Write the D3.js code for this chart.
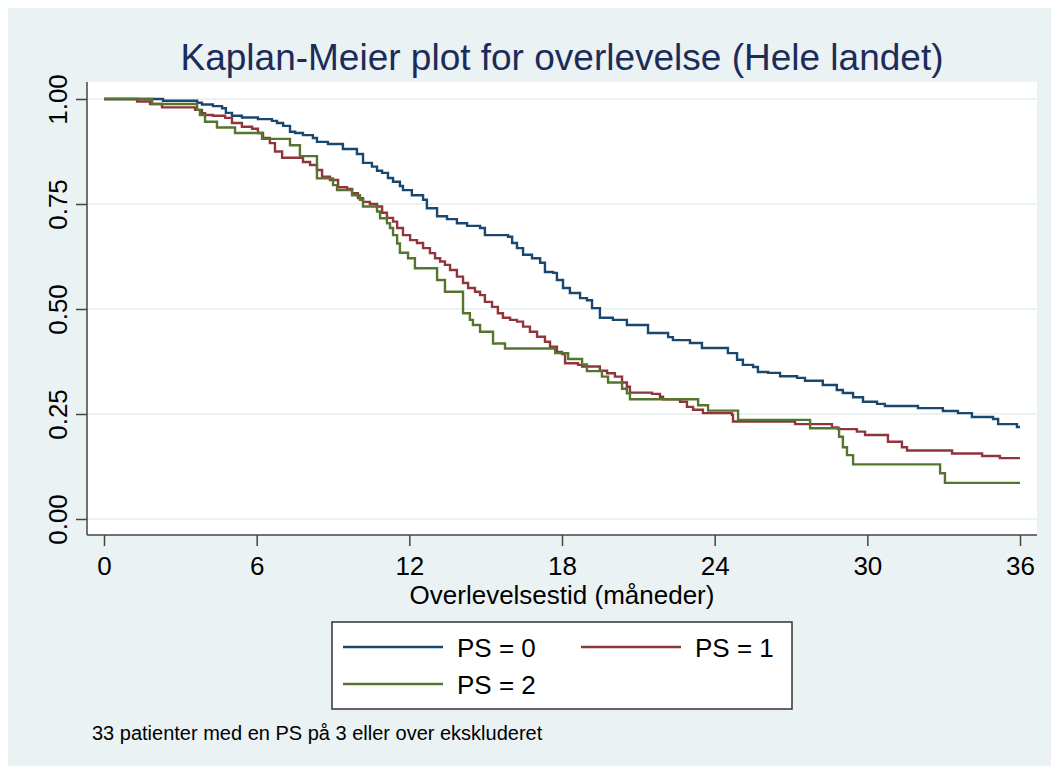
<!DOCTYPE html>
<html>
<head>
<meta charset="utf-8">
<script src="https://cdn.jsdelivr.net/npm/d3@7"></script>
<style>
  body { margin: 0; background: #fff; }
  text { font-family: "Liberation Sans", Arial, sans-serif; }
</style>
</head>
<body>
<script>
// Kaplan-Meier step data: time (months) where survival drops, and survival after the drop
var ps0Time = [0, 2.32, 3.66, 3.85, 4.28, 4.64, 4.79, 5.03, 5.42, 6.05, 6.60, 6.80, 7.04, 7.31, 7.51, 7.82, 8.21, 8.37, 8.80, 9.39, 9.94, 10.18, 10.53, 10.73, 10.93, 11.16, 11.36, 11.63, 11.75, 12.10, 12.54, 12.69, 13.09, 13.48, 13.87, 14.27, 14.78, 14.97, 15.88, 16.04, 16.23, 16.47, 16.82, 17.14, 17.33, 17.65, 17.80, 18.04, 18.31, 18.71, 18.98, 19.18, 19.49, 20.00, 20.55, 21.38, 22.17, 22.36, 23.03, 23.50, 24.52, 24.88, 25.11, 25.51, 25.70, 26.10, 26.57, 27.24, 27.55, 28.25, 28.80, 29.04, 29.44, 29.83, 30.38, 30.69, 31.99, 32.97, 33.56, 34.11, 34.94, 35.14, 35.88];
var ps0Surv = [1, 0.996, 0.991, 0.987, 0.983, 0.978, 0.967, 0.960, 0.956, 0.952, 0.948, 0.943, 0.936, 0.922, 0.919, 0.914, 0.907, 0.898, 0.893, 0.881, 0.869, 0.848, 0.839, 0.829, 0.824, 0.812, 0.803, 0.793, 0.783, 0.771, 0.760, 0.740, 0.721, 0.714, 0.704, 0.698, 0.693, 0.676, 0.672, 0.657, 0.645, 0.629, 0.621, 0.610, 0.588, 0.586, 0.569, 0.550, 0.538, 0.526, 0.521, 0.502, 0.479, 0.474, 0.462, 0.443, 0.433, 0.426, 0.419, 0.407, 0.395, 0.379, 0.367, 0.362, 0.350, 0.348, 0.340, 0.336, 0.329, 0.319, 0.307, 0.300, 0.290, 0.279, 0.274, 0.269, 0.264, 0.257, 0.252, 0.243, 0.238, 0.226, 0.219];

var ps1Time = [0, 1.30, 1.81, 2.28, 3.58, 3.85, 3.97, 4.28, 4.76, 5.03, 5.42, 5.82, 6.05, 6.25, 6.52, 6.72, 7.00, 7.82, 8.10, 8.37, 8.57, 8.88, 9.20, 9.55, 9.75, 9.98, 10.18, 10.45, 10.73, 10.93, 11.12, 11.36, 11.52, 11.75, 12.03, 12.30, 12.54, 12.81, 13.01, 13.21, 13.40, 13.60, 13.87, 14.11, 14.31, 14.58, 14.78, 14.97, 15.25, 15.48, 15.68, 15.96, 16.23, 16.47, 16.74, 17.02, 17.33, 17.53, 17.80, 18.00, 18.12, 18.63, 18.79, 19.49, 19.77, 20.08, 20.36, 20.55, 20.67, 21.54, 21.85, 21.97, 22.64, 22.91, 23.15, 23.54, 24.68, 24.72, 27.16, 28.61, 28.85, 29.59, 29.91, 30.81, 31.36, 31.56, 33.33, 34.51, 35.21];
var ps1Surv = [1, 0.994, 0.988, 0.980, 0.974, 0.966, 0.962, 0.960, 0.955, 0.943, 0.934, 0.929, 0.919, 0.907, 0.895, 0.875, 0.860, 0.850, 0.843, 0.831, 0.815, 0.807, 0.790, 0.786, 0.776, 0.764, 0.755, 0.750, 0.744, 0.729, 0.717, 0.708, 0.693, 0.676, 0.664, 0.657, 0.645, 0.633, 0.621, 0.613, 0.605, 0.593, 0.577, 0.562, 0.550, 0.541, 0.533, 0.517, 0.505, 0.490, 0.479, 0.474, 0.470, 0.458, 0.446, 0.434, 0.422, 0.410, 0.398, 0.393, 0.371, 0.367, 0.363, 0.353, 0.347, 0.339, 0.325, 0.315, 0.301, 0.298, 0.291, 0.285, 0.279, 0.267, 0.260, 0.252, 0.248, 0.232, 0.226, 0.218, 0.214, 0.208, 0.200, 0.184, 0.171, 0.163, 0.156, 0.150, 0.145];

var ps2Time = [0, 1.89, 3.66, 3.77, 3.97, 4.44, 5.15, 6.21, 7.31, 7.70, 8.37, 9.00, 9.16, 9.75, 10.06, 10.18, 10.73, 10.85, 11.12, 11.24, 11.36, 11.52, 11.63, 11.95, 12.22, 13.09, 13.40, 14.11, 14.38, 14.50, 14.78, 15.29, 15.76, 17.73, 18.24, 18.79, 18.98, 19.57, 19.81, 20.36, 20.55, 20.67, 23.35, 23.74, 24.92, 27.75, 28.89, 29.04, 29.20, 29.44, 32.86, 33.05];
var ps2Surv = [1, 0.988, 0.974, 0.962, 0.946, 0.932, 0.919, 0.905, 0.890, 0.864, 0.811, 0.795, 0.783, 0.771, 0.760, 0.744, 0.732, 0.716, 0.704, 0.693, 0.676, 0.656, 0.634, 0.621, 0.597, 0.569, 0.541, 0.490, 0.474, 0.462, 0.446, 0.418, 0.406, 0.395, 0.381, 0.368, 0.352, 0.339, 0.325, 0.310, 0.299, 0.285, 0.271, 0.258, 0.236, 0.216, 0.196, 0.171, 0.152, 0.130, 0.109, 0.086];

var groups = ["PS = 0", "PS = 1", "PS = 2"];
var groupColors = ["#1a476f", "#90353b", "#55752f"];
var xTicks = [0, 6, 12, 18, 24, 30, 36];
var yTicks = [0, 0.25, 0.5, 0.75, 1];
var maxTime = 36;

var W = 1051, H = 766;
var plot = {left: 87, right: 1037, top: 82, bottom: 535};

var svg = d3.select("body").append("svg")
    .attr("width", W)
    .attr("height", H);

// background (white strip top/left, light blue-grey graph region)
svg.append("rect").attr("width", W).attr("height", H).attr("fill", "#ffffff");
svg.append("rect").attr("x", 8).attr("y", 8).attr("width", W - 8).attr("height", H - 8).attr("fill", "#eaf2f3");
svg.append("rect")
    .attr("x", plot.left).attr("y", plot.top)
    .attr("width", plot.right - plot.left).attr("height", plot.bottom - plot.top)
    .attr("fill", "#ffffff");

var x = d3.scaleLinear().domain([0, 36]).range([104, 1020]);
var y = d3.scaleLinear().domain([0, 1]).range([519, 99]);

// gridlines
svg.append("g").selectAll("line")
    .data(yTicks)
  .enter().append("line")
    .attr("x1", plot.left).attr("x2", plot.right)
    .attr("y1", function(d) { return y(d); })
    .attr("y2", function(d) { return y(d); })
    .attr("stroke", "#eaf2f3")
    .attr("stroke-width", 2);

// title
svg.append("text")
    .attr("x", (plot.left + plot.right) / 2)
    .attr("y", 70)
    .attr("text-anchor", "middle")
    .attr("fill", "#1c2c5a")
    .style("font-size", "37px")
    .text("Kaplan-Meier plot for overlevelse (Hele landet)");

// x axis
var xAxis = d3.axisBottom(x).tickValues(xTicks).tickSize(11).tickPadding(6).tickFormat(d3.format("d"));
var gx = svg.append("g")
    .attr("transform", "translate(0," + plot.bottom + ")")
    .call(xAxis);
gx.select(".domain").remove();
gx.append("line")
    .attr("x1", plot.left).attr("x2", plot.right)
    .attr("stroke", "#444").attr("stroke-width", 1.5);
gx.selectAll(".tick line").attr("stroke", "#444").attr("stroke-width", 1.5);
gx.selectAll(".tick text")
    .attr("fill", "#000")
    .attr("dy", null)
    .attr("y", 40)
    .style("font-size", "26px")
    .style("font-family", "'Liberation Sans', Arial, sans-serif");

// y axis
var yAxis = d3.axisLeft(y).tickValues(yTicks).tickSize(11).tickFormat(d3.format(".2f"));
var gy = svg.append("g")
    .attr("transform", "translate(" + plot.left + ",0)")
    .call(yAxis);
gy.select(".domain").remove();
gy.append("line")
    .attr("y1", plot.top).attr("y2", plot.bottom)
    .attr("stroke", "#444").attr("stroke-width", 1.5);
gy.selectAll(".tick line").attr("stroke", "#444").attr("stroke-width", 1.5);
gy.selectAll(".tick text")
    .attr("x", null).attr("dy", null)
    .attr("fill", "#000")
    .attr("text-anchor", "middle")
    .attr("transform", "translate(-20,0) rotate(-90)")
    .style("font-size", "26px")
    .style("font-family", "'Liberation Sans', Arial, sans-serif");

// x axis title
svg.append("text")
    .attr("x", (plot.left + plot.right) / 2)
    .attr("y", 604)
    .attr("text-anchor", "middle")
    .style("font-size", "26px")
    .text("Overlevelsestid (måneder)");

// survival curves
var line = d3.line()
    .x(function(d) { return x(d[0]); })
    .y(function(d) { return y(d[1]); })
    .curve(d3.curveStepAfter);

function curvePoints(times, surv) {
  var pts = times.map(function(t, i) { return [t, surv[i]]; });
  pts.push([maxTime, surv[surv.length - 1]]);
  return pts;
}

var series = [
  curvePoints(ps0Time, ps0Surv),
  curvePoints(ps1Time, ps1Surv),
  curvePoints(ps2Time, ps2Surv)
];

svg.append("g").selectAll("path")
    .data(series)
  .enter().append("path")
    .attr("d", line)
    .attr("fill", "none")
    .attr("stroke", function(d, i) { return groupColors[i]; })
    .attr("stroke-width", 2.4);

// legend
var legend = svg.append("g");
legend.append("rect")
    .attr("x", 332).attr("y", 622)
    .attr("width", 460).attr("height", 87)
    .attr("fill", "#fff")
    .attr("stroke", "#333")
    .attr("stroke-width", 1.5);

var legendPos = [[343, 647], [581, 647], [343, 684]];
groups.forEach(function(g, i) {
  var p = legendPos[i];
  legend.append("line")
      .attr("x1", p[0]).attr("x2", p[0] + 100)
      .attr("y1", p[1]).attr("y2", p[1])
      .attr("stroke", groupColors[i])
      .attr("stroke-width", 2.4);
  legend.append("text")
      .attr("x", p[0] + 114)
      .attr("y", p[1] + 10)
      .style("font-size", "26px")
      .text(g);
});

// note
svg.append("text")
    .attr("x", 92)
    .attr("y", 740)
    .style("font-size", "20px")
    .text("33 patienter med en PS på 3 eller over ekskluderet");
</script>
</body>
</html>
